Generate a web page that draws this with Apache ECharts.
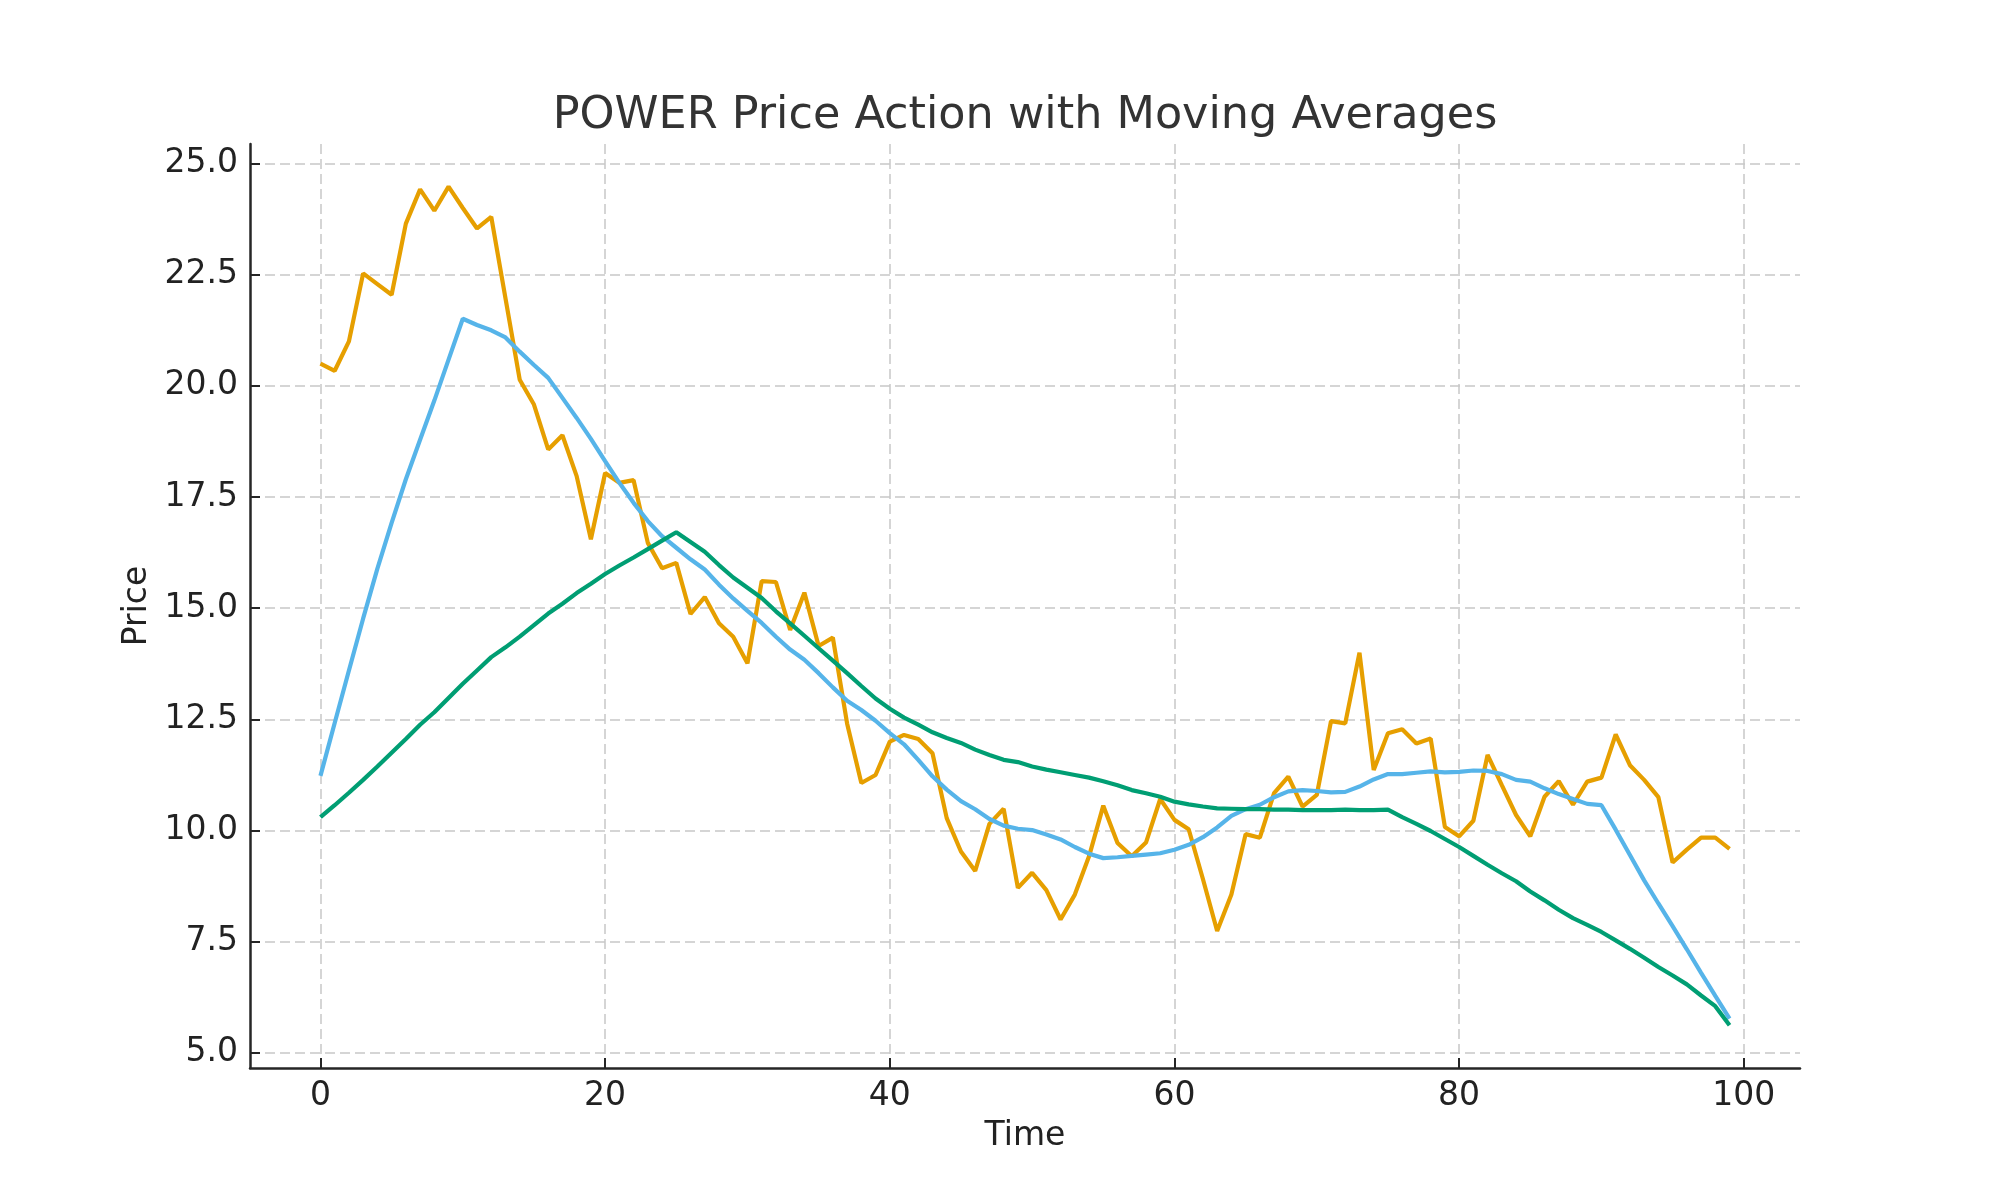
<!DOCTYPE html>
<html>
<head>
<meta charset="utf-8">
<script src="https://cdn.jsdelivr.net/npm/echarts@6/dist/echarts.min.js"></script>
<style>
html,body{margin:0;padding:0;background:#fff;}
#chart{width:2000px;height:1200px;}
</style>
</head>
<body>
<div id="chart"></div>
<script>
const titleText = 'POWER Price Action with Moving Averages';
const xName = 'Time';
const yName = 'Price';
const xTicks = [0, 20, 40, 60, 80, 100];
const yTicks = [5, 7.5, 10, 12.5, 15, 17.5, 20, 22.5, 25];

const time = Array.from({length: 100}, (_, i) => i);

const price = [
  20.50, 20.34, 21.00, 22.53, 22.29, 22.05, 23.65, 24.42, 23.94, 24.48,
  24.00, 23.54, 23.80, 21.97, 20.14, 19.58, 18.57, 18.89, 17.97, 16.55,
  18.04, 17.82, 17.88, 16.47, 15.90, 16.02, 14.87, 15.25, 14.66, 14.36,
  13.76, 15.61, 15.59, 14.51, 15.35, 14.15, 14.34, 12.41, 11.07, 11.25,
  12.00, 12.15, 12.06, 11.74, 10.28, 9.53, 9.09, 10.15, 10.49, 8.71,
  9.05, 8.66, 8.00, 8.56, 9.42, 10.56, 9.72, 9.42, 9.73, 10.71,
  10.24, 10.03, 8.91, 7.74, 8.56, 9.92, 9.84, 10.84, 11.21, 10.54,
  10.80, 12.46, 12.41, 14.00, 11.36, 12.19, 12.28, 11.96, 12.07, 10.08,
  9.87, 10.22, 11.70, 11.02, 10.35, 9.87, 10.76, 11.11, 10.58, 11.10,
  11.19, 12.16, 11.47, 11.14, 10.75, 9.28, 9.57, 9.84, 9.84, 9.59
];

const smaShort = [
  11.23, 12.42, 13.60, 14.77, 15.89, 16.92, 17.90, 18.79, 19.67, 20.59,
  21.51, 21.37, 21.25, 21.09, 20.77, 20.47, 20.18, 19.73, 19.28, 18.81,
  18.31, 17.82, 17.37, 16.96, 16.62, 16.36, 16.10, 15.87, 15.53, 15.22,
  14.94, 14.67, 14.36, 14.07, 13.84, 13.54, 13.22, 12.92, 12.71, 12.47,
  12.19, 11.94, 11.59, 11.22, 10.92, 10.66, 10.48, 10.26, 10.11, 10.04,
  10.01, 9.91, 9.80, 9.63, 9.48, 9.38, 9.40, 9.43, 9.46, 9.49,
  9.57, 9.68, 9.85, 10.07, 10.33, 10.48, 10.58, 10.75, 10.88, 10.91,
  10.89, 10.86, 10.87, 10.99, 11.15, 11.27, 11.27, 11.30, 11.33, 11.31,
  11.32, 11.35, 11.34, 11.27, 11.14, 11.10, 10.95, 10.82, 10.71, 10.60,
  10.57, 10.02, 9.45, 8.88, 8.36, 7.85, 7.33, 6.80, 6.28, 5.77
];

const smaLong = [
  10.30, 10.57, 10.85, 11.14, 11.44, 11.75, 12.06, 12.38, 12.66, 12.98,
  13.30, 13.60, 13.90, 14.12, 14.36, 14.62, 14.88, 15.10, 15.34, 15.55,
  15.77, 15.96, 16.14, 16.33, 16.52, 16.71, 16.49, 16.27, 15.97, 15.69,
  15.46, 15.23, 14.93, 14.66, 14.38, 14.10, 13.82, 13.54, 13.25, 12.97,
  12.74, 12.54, 12.38, 12.21, 12.08, 11.97, 11.82, 11.70, 11.59, 11.54,
  11.44, 11.37, 11.31, 11.25, 11.19, 11.11, 11.02, 10.91, 10.84, 10.76,
  10.65, 10.59, 10.54, 10.50, 10.49, 10.48, 10.48, 10.47, 10.47, 10.46,
  10.46, 10.46, 10.47, 10.46, 10.46, 10.47, 10.30, 10.15, 9.99, 9.81,
  9.63, 9.43, 9.23, 9.04, 8.86, 8.63, 8.43, 8.22, 8.03, 7.88,
  7.72, 7.53, 7.34, 7.14, 6.93, 6.74, 6.54, 6.29, 6.05, 5.62
];

const pairs = arr => time.map((t, i) => [t, arr[i]]);
const font = 'DejaVu Sans';
const splitStyle = {show: true, lineStyle: {type: [10, 5], color: '#c8c8c8', width: 1.5}};

const chart = echarts.init(document.getElementById('chart'), null, {renderer: 'canvas'});
chart.setOption({
  animation: false,
  backgroundColor: '#ffffff',
  textStyle: {fontFamily: font},
  graphic: [{
    type: 'text',
    x: 1025,
    y: 116,
    style: {text: titleText, fill: '#333333', font: '44.5px "DejaVu Sans"', textAlign: 'center', textVerticalAlign: 'middle'}
  }],
  grid: {left: 250, right: 200, top: 144, bottom: 132, containLabel: false},
  xAxis: {
    type: 'value', min: -4.95, max: 103.95,
    name: xName, nameLocation: 'middle', nameGap: 52,
    nameTextStyle: {fontSize: 33, color: '#222222', fontFamily: font},
    axisLine: {show: true, onZero: false, lineStyle: {color: '#262626', width: 2.5}},
    axisTick: {show: true, inside: true, length: 10, customValues: xTicks, lineStyle: {color: '#262626', width: 2}},
    axisLabel: {customValues: xTicks, fontSize: 33, color: '#222222', margin: 12, fontFamily: font},
    splitLine: splitStyle
  },
  yAxis: {
    type: 'value', min: 4.66, max: 25.44,
    name: yName, nameLocation: 'middle', nameGap: 92, nameRotate: 90,
    nameTextStyle: {fontSize: 33, color: '#222222', fontFamily: font},
    axisLine: {show: true, onZero: false, lineStyle: {color: '#262626', width: 2.5}},
    axisTick: {show: true, inside: true, length: 10, customValues: yTicks, lineStyle: {color: '#262626', width: 2}},
    axisLabel: {customValues: yTicks, fontSize: 33, color: '#222222', margin: 12, fontFamily: font,
      formatter: v => Number(v).toFixed(1)},
    splitLine: splitStyle
  },
  series: [
    {name: 'Price', type: 'line', data: pairs(price), showSymbol: false, symbol: 'none',
     lineStyle: {color: '#E69F00', width: 4.2}, itemStyle: {color: '#E69F00'}},
    {name: 'SMA Short', type: 'line', data: pairs(smaShort), showSymbol: false, symbol: 'none',
     lineStyle: {color: '#56B4E9', width: 4.2}, itemStyle: {color: '#56B4E9'}},
    {name: 'SMA Long', type: 'line', data: pairs(smaLong), showSymbol: false, symbol: 'none',
     lineStyle: {color: '#009E73', width: 4.2}, itemStyle: {color: '#009E73'}}
  ]
});
</script>
</body>
</html>
